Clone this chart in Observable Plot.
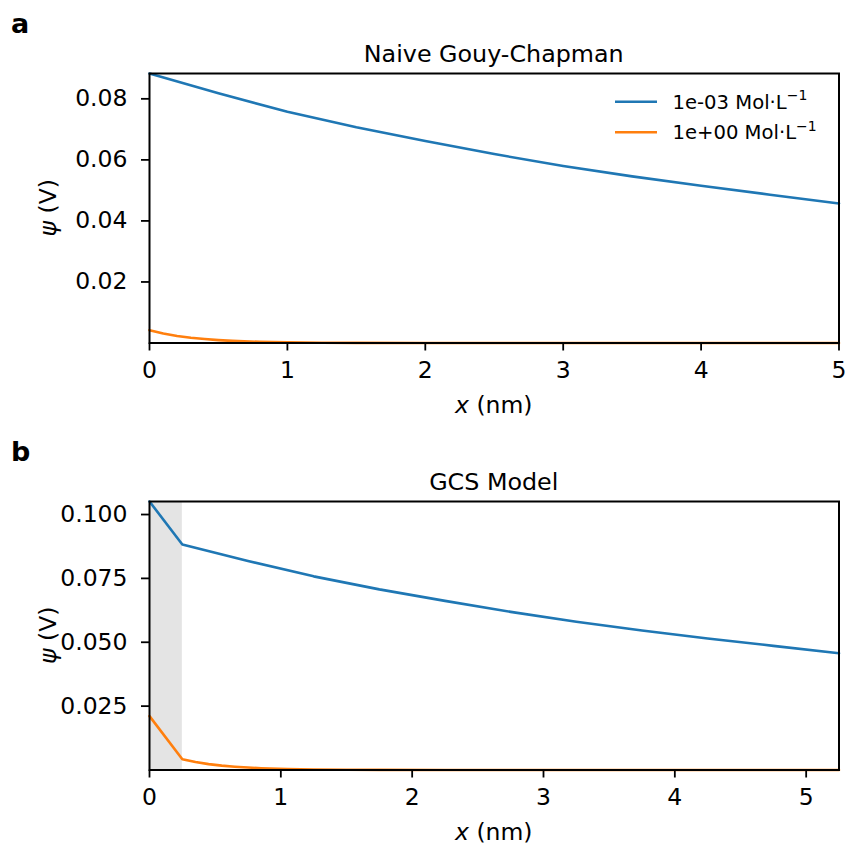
<!DOCTYPE html>
<html><head><meta charset="utf-8">
<script src="https://cdn.jsdelivr.net/npm/d3@7"></script>
<script src="https://cdn.jsdelivr.net/npm/@observablehq/plot@0.6"></script>
<style>
body{margin:0;background:#fff;}
#wrap{position:relative;width:849px;height:848px;font-family:"DejaVu Sans",sans-serif;}
#wrap > svg{display:block;}
#ov{position:absolute;left:0;top:0;pointer-events:none;}
</style></head><body><div id="wrap"></div>
<script>
// ---- data ----
const seriesLabels = ["1e-03 Mol·L", "1e+00 Mol·L"];
const seriesColors = ["#1f77b4", "#ff7f0e"];
const panelLetters = ["a", "b"];
const panelTitles = ["Naive Gouy-Chapman", "GCS Model"];

// Panel a: naive Gouy-Chapman
const xA_low = [0, 0.5, 1, 1.5, 2, 2.5, 3, 3.5, 4, 4.5, 5];
const psiA_low = [0.0883, 0.0818, 0.0758, 0.0707, 0.0662, 0.0619, 0.0580, 0.0546, 0.0515, 0.0486, 0.0457];
const xA_high = [0, 0.1, 0.2, 0.3, 0.4, 0.5, 0.6, 0.8, 1.0, 1.25, 1.5, 2, 3, 5];
const psiA_high = [0.0042, 0.0031, 0.0023, 0.0017, 0.0013, 0.00095, 0.0007, 0.00038, 0.00021, 0.0001, 0.00005, 0.00001, 0, 0];

// Panel b: GCS model (Stern layer + diffuse layer)
const sternWidth = 0.25;
const xB_low = [0, 0.25, 0.75, 1.25, 1.75, 2.25, 2.75, 3.25, 3.75, 4.25, 4.75, 5.25];
const psiB_low = [0.1051, 0.0883, 0.0818, 0.0758, 0.0707, 0.0662, 0.0619, 0.0580, 0.0546, 0.0515, 0.0486, 0.0457];
const xB_high = [0, 0.25, 0.35, 0.45, 0.55, 0.65, 0.75, 0.85, 1.05, 1.25, 1.5, 1.75, 2.25, 3.25, 5.25];
const psiB_high = [0.0211, 0.0042, 0.0031, 0.0023, 0.0017, 0.0013, 0.00095, 0.0007, 0.00038, 0.00021, 0.0001, 0.00005, 0.00001, 0, 0];

const xTicksA = [0, 1, 2, 3, 4, 5];
const yTicksA = [0.02, 0.04, 0.06, 0.08];
const xTicksB = [0, 1, 2, 3, 4, 5];
const yTicksB = [0.025, 0.05, 0.075, 0.1];

// ---- layout ----
const W = 849;
const ML = 149, MR = 10.5;
const FONT = "DejaVu Sans";
const TICK_FS = 23.5;

function rows(xs, ys, s) { return xs.map((x, i) => ({x, psi: ys[i], s})); }

function panel(cfg) {
  const data = [...rows(cfg.xLow, cfg.yLow, seriesLabels[0]), ...rows(cfg.xHigh, cfg.yHigh, seriesLabels[1])];
  const xDom = d3.extent(data, d => d.x);
  const yDom = d3.extent(data, d => d.psi);
  const marks = [];
  if (cfg.stern) marks.push(Plot.rect([{x1: 0, x2: cfg.stern}], {x1: "x1", x2: "x2", fill: "#e4e4e4"}));
  marks.push(
    Plot.line(data, {x: "x", y: "psi", stroke: "s", strokeWidth: 2.6, curve: "linear"}),
    Plot.axisX({ticks: cfg.xTicks, tickSize: 8, tickPadding: 10, fontSize: TICK_FS, strokeWidth: 1.8, tickFormat: d3.format("d"), label: null}),
    Plot.axisY({ticks: cfg.yTicks, tickSize: 8, tickPadding: 14, fontSize: TICK_FS, strokeWidth: 1.8, tickFormat: d3.format(cfg.yFmt), label: null}),
    Plot.frame({stroke: "black", strokeWidth: 2})
  );
  return Plot.plot({
    width: W, height: cfg.height,
    marginLeft: ML, marginRight: MR, marginTop: cfg.mt, marginBottom: cfg.mb,
    x: {domain: xDom},
    y: {domain: yDom},
    color: {domain: seriesLabels, range: seriesColors},
    style: {fontFamily: FONT, background: "white", color: "black", overflow: "visible"},
    marks
  });
}

const wrap = document.getElementById("wrap");
wrap.appendChild(panel({xLow: xA_low, yLow: psiA_low, xHigh: xA_high, yHigh: psiA_high,
  xTicks: xTicksA, yTicks: yTicksA, yFmt: ".2f", height: 428, mt: 73, mb: 85.5}));
wrap.appendChild(panel({xLow: xB_low, yLow: psiB_low, xHigh: xB_high, yHigh: psiB_high, stern: sternWidth,
  xTicks: xTicksB, yTicks: yTicksB, yFmt: ".3f", height: 420, mt: 73, mb: 78.5}));

// ---- annotation overlay (titles, axis labels, panel letters, legend) ----
const ov = d3.select(wrap).append("svg").attr("id", "ov").attr("width", W).attr("height", 848)
  .style("font-family", FONT);
const cx = ML + (W - MR - ML) / 2;
const offsets = [0, 428];
const plotH = [269.5, 268.5];
offsets.forEach((off, i) => {
  ov.append("text").attr("x", 11).attr("y", 33 + off).attr("font-size", 27).attr("font-weight", "bold").text(panelLetters[i]);
  ov.append("text").attr("x", cx).attr("y", 62 + off).attr("font-size", 23.8).attr("text-anchor", "middle").text(panelTitles[i]);
  const xl = ov.append("text").attr("x", cx).attr("y", 413 + off - (i ? 1 : 0)).attr("font-size", TICK_FS).attr("text-anchor", "middle");
  xl.append("tspan").attr("font-style", "italic").text("x");
  xl.append("tspan").text(" (nm)");
  const yc = 73 + off + plotH[i] / 2;
  const yl = ov.append("text").attr("transform", `translate(56,${yc}) rotate(-90)`).attr("font-size", TICK_FS).attr("text-anchor", "middle");
  yl.append("tspan").attr("font-style", "italic").text("ψ");
  yl.append("tspan").text(" (V)");
});
// legend (panel a, upper right)
seriesLabels.forEach((lab, i) => {
  const y = 101.7 + i * 30.6;
  ov.append("line").attr("x1", 615).attr("x2", 657).attr("y1", y).attr("y2", y)
    .attr("stroke", seriesColors[i]).attr("stroke-width", 2.6);
  const t = ov.append("text").attr("x", 672.5).attr("y", y + 7).attr("font-size", 19.6);
  t.append("tspan").text(lab);
  t.append("tspan").attr("font-size", 14).attr("dy", -8.5).text("−1");
});
</script>
</body></html>
